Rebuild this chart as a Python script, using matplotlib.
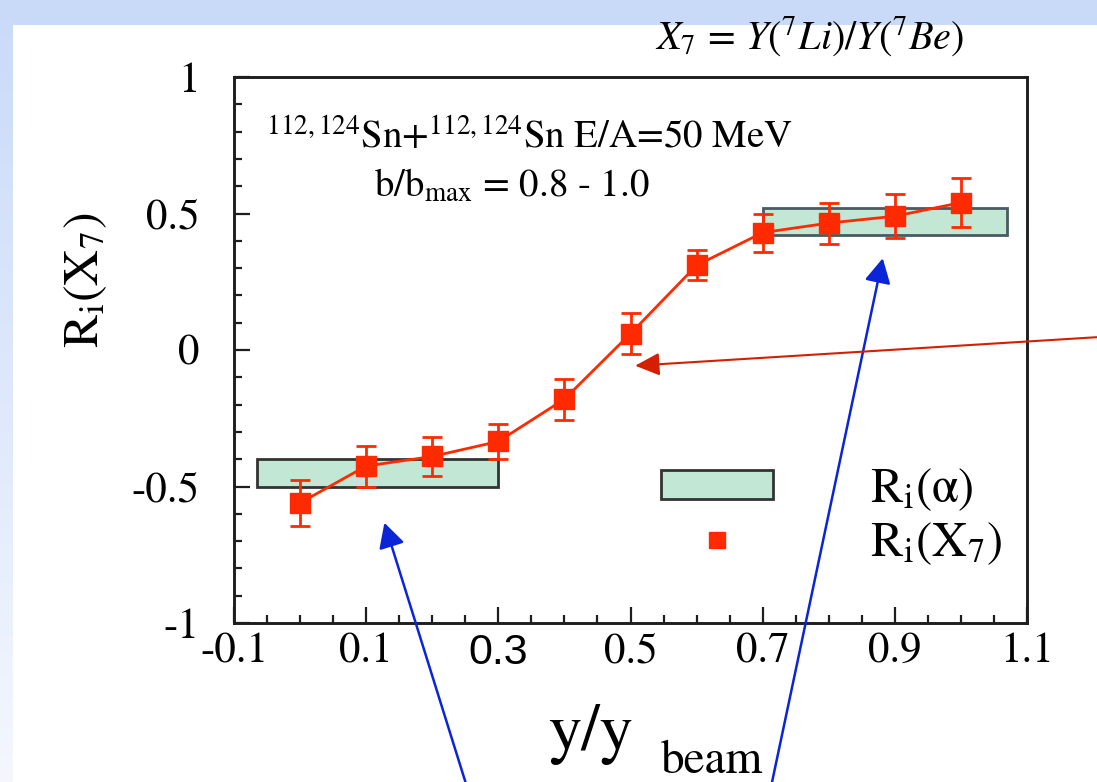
import numpy as np
import matplotlib
matplotlib.use("Agg")
import matplotlib.pyplot as plt
from matplotlib.patches import Patch
from matplotlib.lines import Line2D
from matplotlib.ticker import MultipleLocator, FixedLocator

plt.rcParams['font.family'] = ['STIXGeneral', 'DejaVu Serif']
plt.rcParams['mathtext.fontset'] = 'stix'

# Isospin transport ratio vs. normalised rapidity
y_rel = [0.0, 0.1, 0.2, 0.3, 0.4, 0.5, 0.6, 0.7, 0.8, 0.9, 1.0]
ri_x7 = [-0.56, -0.425, -0.39, -0.335, -0.18, 0.06, 0.31, 0.43, 0.465, 0.49, 0.54]
ri_x7_err = [0.085, 0.075, 0.07, 0.065, 0.075, 0.075, 0.055, 0.07, 0.075, 0.08, 0.09]

# R_i(alpha) bands: rapidity span and value range
alpha_x_lo = [-0.065, 0.70]
alpha_x_hi = [0.30, 1.07]
alpha_lo = [-0.50, 0.42]
alpha_hi = [-0.40, 0.52]

x_ticks = [-0.1, 0.1, 0.3, 0.5, 0.7, 0.9, 1.1]
x_tick_labels = ['-0.1', '0.1', '0.3', '0.5', '0.7', '0.9', '1.1']
y_ticks = [-1, -0.5, 0, 0.5, 1]
y_tick_labels = ['-1', '-0.5', '0', '0.5', '1']

W, H = 1097, 782
fig = plt.figure(figsize=(W / 100, H / 100), dpi=100)

def fxy(x, y):
    return x / W, 1 - y / H

# slide background: light blue top strip and fading left strip
bg = fig.add_axes([0, 0, 1, 1], zorder=-10)
img = np.ones((H, W, 3))
top_c = np.array([201, 218, 248]) / 255
bot_c = np.array([244, 247, 254]) / 255
img[:25, :, :] = top_c
t = np.linspace(0, 1, H)[:, None]
img[:, :13, :] = (top_c * (1 - t) + bot_c * t)[:, None, :]
bg.imshow(img, aspect='auto', extent=[0, W, H, 0], interpolation='bilinear')
bg.set_xlim(0, W)
bg.set_ylim(H, 0)
bg.axis('off')

ax = fig.add_axes([234 / W, 1 - 623 / H, (1027 - 234) / W, (623 - 77) / H])
ax.set_xlim(-0.1, 1.1)
ax.set_ylim(-1, 1)

green = '#c2e8d5'
edge_cols = ['#333333', '#4a5a62']
widths = [hi - lo for lo, hi in zip(alpha_x_lo, alpha_x_hi)]
heights = [hi - lo for lo, hi in zip(alpha_lo, alpha_hi)]
ax.bar(alpha_x_lo, heights, width=widths, bottom=alpha_lo, align='edge',
       color=green, edgecolor=edge_cols, linewidth=2.0, zorder=2)

red = '#ff2a00'
ax.errorbar(y_rel, ri_x7, yerr=ri_x7_err, fmt='s-', color=red, ms=14,
            lw=2.0, elinewidth=2.0, capsize=7.5, capthick=2.0, zorder=3)

# axes styling
for s in ax.spines.values():
    s.set_linewidth(2.1)
    s.set_color('#1e1e1e')
ax.xaxis.set_major_locator(FixedLocator(x_ticks))
ax.xaxis.set_minor_locator(MultipleLocator(0.05))
ax.yaxis.set_major_locator(FixedLocator(y_ticks))
ax.yaxis.set_minor_locator(MultipleLocator(0.1))
ax.set_xticklabels(x_tick_labels)
ax.set_yticklabels(y_tick_labels)
ax.tick_params(which='both', direction='in', top=False, right=False, width=1.6,
               color='#1e1e1e', labelsize=31)
ax.tick_params(which='major', length=11.5)
ax.tick_params(which='minor', length=5.5)
ax.tick_params(axis='y', pad=25)
ax.tick_params(axis='x', pad=7)
lbl = ax.get_xticklabels()[2]
lbl.set_fontfamily('Liberation Sans')
lbl.set_fontsize(31)

# legend
handles = [Patch(facecolor=green, edgecolor='#333333', linewidth=2.0),
           Line2D([], [], marker='s', color=red, ls='none', ms=12)]
leg = ax.legend(handles, [r'$\mathrm{R_i(\alpha)}$', r'$\mathrm{R_i(X_7)}$'],
                loc='upper left', bbox_to_anchor=fxy(661, 466),
                bbox_transform=fig.transFigure, frameon=False, fontsize=35,
                handlelength=2.3, handleheight=0.53, handletextpad=2.0,
                borderpad=0, borderaxespad=0, labelspacing=0.15)

# reaction annotation
fig.text(*fxy(266, 149), r'$^{112,124}$Sn+$^{112,124}$Sn E/A=50 MeV',
         fontsize=28, ha='left', va='baseline')
fig.text(*fxy(374, 197), r'b/b$_{\mathrm{max}}$ = 0.8 - 1.0',
         fontsize=28, ha='left', va='baseline')

# top formula
fig.text(*fxy(655, 50), r'$X_7\,=\,Y(^7Li)/Y(^7Be)$', fontsize=29,
         ha='left', va='baseline')

# axis titles
fig.text(*fxy(86, 280), r'$\mathrm{R_i(X_7)}$', fontsize=36, rotation=90,
         ha='center', va='center')
fig.text(*fxy(548, 750), 'y/y', fontsize=48, ha='left', va='baseline')
fig.text(*fxy(661, 773), 'beam', fontsize=34, ha='left', va='baseline')

# pointer arrows
blue = '#0a24d8'
arrow_b = dict(arrowstyle='-|>,head_length=0.75,head_width=0.4', color=blue,
               lw=1.8, shrinkA=0, shrinkB=0, mutation_scale=20)
ax.annotate('', xy=(0.1276, -0.633), xycoords='data', xytext=(467, -5),
            textcoords='figure pixels', arrowprops=arrow_b, annotation_clip=False)
ax.annotate('', xy=(0.8817, 0.336), xycoords='data', xytext=(771, -5),
            textcoords='figure pixels', arrowprops=arrow_b, annotation_clip=False)
arrow_r = dict(arrowstyle='-|>,head_length=0.75,head_width=0.35', color='#d42000',
               lw=1.5, shrinkA=0, shrinkB=0, mutation_scale=20)
ax.annotate('', xy=(0.507, -0.0575), xycoords='data', xytext=(1100, 782 - 337),
            textcoords='figure pixels', arrowprops=arrow_r, annotation_clip=False)

fig.savefig('out.png', dpi=100)
